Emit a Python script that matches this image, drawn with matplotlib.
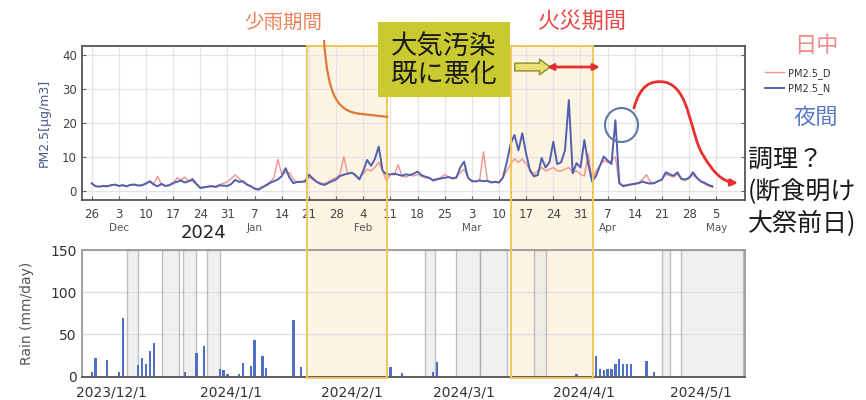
import numpy as np
import pandas as pd
import matplotlib
matplotlib.use("Agg")
import matplotlib.pyplot as plt
import matplotlib.transforms as mtransforms
from matplotlib.patches import Rectangle, Ellipse, FancyArrowPatch, PathPatch
from matplotlib.path import Path
from matplotlib.lines import Line2D
from matplotlib.ticker import FixedLocator, FixedFormatter

plt.rcParams['font.family'] = ['DejaVu Sans']
CJK = ['Noto Sans CJK JP', 'DejaVu Sans']

# ---- daily PM2.5 (daytime / night-time), starting 2023-11-26 ----
start_date = '2023-11-26'
pm25_day = [
    2.2, 1.6, 1.5, 1.7, 1.6, 1.9, 2.0,
    1.7, 1.9, 1.6, 2.0, 2.1, 1.8, 1.9,
    2.4, 2.8, 2.2, 4.4, 2.0, 1.6, 2.0,
    2.2, 4.0, 3.4, 4.2, 3.0, 3.0, 2.0,
    1.2, 1.3, 1.5, 1.7, 1.5, 2.0, 2.4,
    2.8, 3.8, 4.8, 3.8, 2.6, 2.2, 1.6,
    1.0, 0.8, 1.4, 2.0, 2.8, 4.0, 9.4,
    5.0, 5.5, 5.5, 3.5, 2.6, 2.8, 2.8,
    4.2, 3.5, 2.8, 2.5, 2.3, 2.8, 3.5,
    4.0, 5.0, 10.2, 5.0, 5.5, 4.5, 3.8,
    5.2, 6.5, 6.0, 7.0, 8.5, 6.0, 3.0,
    5.0, 4.8, 7.8, 4.5, 4.2, 4.8, 4.5,
    5.0, 4.4, 4.0, 3.8, 3.5, 3.8, 4.0,
    5.0, 4.2, 4.0, 4.2, 5.5, 6.5, 4.0,
    3.2, 3.0, 3.3, 11.6, 3.2, 2.8, 2.9,
    2.8, 4.0, 6.0, 8.0, 9.5, 8.5, 9.5,
    8.0, 6.5, 5.0, 6.0, 7.0, 6.0, 6.5,
    7.0, 6.0, 6.0, 6.5, 7.0, 5.5, 6.0,
    5.0, 4.5, 11.0, 3.5, 6.0, 7.5, 9.0,
    8.5, 9.0, 10.2, 2.2, 1.8, 2.0, 2.2,
    2.4, 2.6, 3.5, 4.9, 2.8, 2.5, 3.0,
    3.5, 5.0, 4.6, 4.2, 5.0, 3.5, 3.2,
    3.8, 4.8, 3.8, 2.8, 2.2, 1.6, 1.2,
]
pm25_night = [
    2.4, 1.5, 1.4, 1.6, 1.5, 1.8, 2.0,
    1.6, 1.8, 1.5, 1.9, 2.0, 1.7, 1.8,
    2.3, 3.0, 2.0, 1.5, 2.2, 1.6, 1.8,
    2.5, 2.8, 3.2, 2.6, 3.0, 3.6, 2.2,
    1.0, 1.2, 1.4, 1.5, 1.3, 1.8, 1.7,
    1.6, 2.2, 3.4, 2.8, 3.0, 2.0, 1.5,
    0.8, 0.5, 1.2, 1.8, 2.5, 3.0, 3.5,
    4.5, 6.8, 4.0, 2.4, 2.8, 2.8, 3.0,
    4.9, 3.8, 2.8, 2.2, 1.9, 2.5, 3.0,
    3.5, 4.5, 4.9, 5.2, 5.5, 4.8, 3.5,
    6.0, 9.2, 7.5, 9.5, 13.1, 6.0, 5.0,
    5.0, 5.2, 4.9, 4.6, 5.0, 4.8, 5.2,
    5.8, 4.8, 4.3, 4.0, 3.2, 3.5, 3.8,
    4.0, 4.2, 3.8, 4.0, 7.0, 8.7, 4.0,
    3.0, 2.9, 3.2, 3.0, 3.1, 2.6, 2.8,
    2.6, 4.0, 8.5, 14.0, 16.5, 12.0, 17.0,
    11.0, 6.0, 4.4, 4.8, 9.8, 7.0, 8.5,
    14.5, 8.0, 8.5, 12.0, 26.7, 5.3, 8.3,
    7.0, 15.0, 8.0, 2.9, 4.5, 7.5, 10.2,
    9.0, 8.0, 20.8, 2.5, 1.5, 1.8, 2.0,
    2.2, 2.4, 2.9, 2.5, 2.3, 2.4, 3.0,
    3.5, 5.6, 5.0, 4.6, 5.6, 3.7, 3.5,
    4.0, 5.6, 4.0, 3.0, 2.5, 1.9, 1.5,
]

# ---- daily rainfall ----
rain_dates = ['2023-11-26', '2023-11-27', '2023-11-30', '2023-12-03', '2023-12-04',
              '2023-12-08', '2023-12-09', '2023-12-10', '2023-12-11', '2023-12-12',
              '2023-12-20', '2023-12-23', '2023-12-25', '2023-12-29', '2023-12-30',
              '2023-12-31', '2024-01-03', '2024-01-04', '2024-01-06', '2024-01-07',
              '2024-01-09', '2024-01-10', '2024-01-17', '2024-01-19', '2024-02-11',
              '2024-02-14', '2024-02-22', '2024-02-23', '2024-03-30', '2024-04-04',
              '2024-04-05', '2024-04-06', '2024-04-07', '2024-04-08', '2024-04-09',
              '2024-04-10', '2024-04-11', '2024-04-12', '2024-04-13', '2024-04-17',
              '2024-04-19']
rain_mm = [5, 22, 19, 5, 69,
           13, 22, 14, 30, 40,
           5, 28, 36, 8, 7,
           3, 2, 16, 12, 43,
           24, 10, 67, 11, 11,
           4, 5, 17, 3, 24,
           8, 7, 9, 8, 14,
           20, 15, 14, 14, 18,
           5]

# days without rain-gauge records
missing_periods = [('2023-12-05', '2023-12-08'), ('2023-12-14', '2023-12-18 12:00'),
                   ('2023-12-19 12:00', '2023-12-23'), ('2023-12-25 20:00', '2023-12-29'),
                   ('2024-02-20', '2024-02-22 12:00'), ('2024-02-28', '2024-03-05'),
                   ('2024-03-05', '2024-03-12'), ('2024-03-19', '2024-03-22'),
                   ('2024-04-21', '2024-04-23'), ('2024-04-26', '2024-05-12')]

# highlighted periods: little rain, and fires
highlight_periods = [('2024-01-20 12:00', '2024-02-10'), ('2024-03-13', '2024-04-03 06:00')]

month_names = ['Jan', 'Feb', 'Mar', 'Apr', 'May', 'Jun', 'Jul', 'Aug', 'Sep', 'Oct', 'Nov', 'Dec']

dates = pd.date_range(start_date, periods=len(pm25_day), freq='D')
xmin = pd.Timestamp('2023-11-23 10:00')
xmax = pd.Timestamp('2024-05-12 10:00')

W, H = 866, 400
fig = plt.figure(figsize=(W / 100, H / 100), dpi=100)


def fp(x, y):
    """pixel position -> figure fraction"""
    return (x / W, 1 - y / H)


ax1 = fig.add_axes([0.0943, 0.5, 0.766, 0.385])
ax2 = fig.add_axes([0.0943, 0.0575, 0.766, 0.3175])
for ax in (ax1, ax2):
    ax.set_facecolor('none')

# ---------------- PM2.5 panel ----------------
ax1.plot(dates, pm25_day, color='#f2928e', lw=1.0, label='PM2.5_D', zorder=3)
ax1.plot(dates, pm25_night, color='#5060ae', lw=1.4, label='PM2.5_N', zorder=4)
ax1.set_xlim(xmin, xmax)
ax1.set_ylim(-2.5, 42.5)
ax1.set_yticks([0, 10, 20, 30, 40])

week_ticks = pd.date_range('2023-11-26', '2024-05-05', freq='7D')
ax1.xaxis.set_major_locator(FixedLocator([matplotlib.dates.date2num(d) for d in week_ticks]))
ax1.xaxis.set_major_formatter(FixedFormatter([str(d.day) for d in week_ticks]))
ax1.grid(True, color='#e4e4e4', lw=0.9)
ax1.set_axisbelow(True)
ax1.tick_params(axis='both', direction='in', length=3, color='#666', labelcolor='#444',
                labelsize=8.5, right=True, top=False)
ax1.tick_params(axis='x', pad=6)
for s in ax1.spines.values():
    s.set_color('#555')
    s.set_linewidth(1.3)
ax1.set_ylabel('PM2.5[μg/m3]', color='#4a5690', fontsize=9, labelpad=8)

# month names under the first tick of each month
blend1 = mtransforms.blended_transform_factory(ax1.transData, ax1.transAxes)
prev = week_ticks[0].month
for d in week_ticks[1:]:
    if d.month != prev:
        ax1.text(d, -0.185, month_names[d.month - 1], transform=blend1, ha='center',
                 va='center', fontsize=7.5, color='#555')
    prev = d.month
fig.text(*fp(203, 233), '2024', ha='center', va='center', fontsize=13, color='#222')

# ---------------- rain panel ----------------
ax2.bar(pd.to_datetime(rain_dates), rain_mm, width=0.6, color='#5070c8', zorder=3)
for a, b in missing_periods:
    ax2.axvspan(pd.Timestamp(a), pd.Timestamp(b), facecolor='#e6e6e6', alpha=0.6,
                edgecolor='#9a9a9a', lw=1.0, zorder=1)
ax2.set_xlim(xmin, xmax)
ax2.set_ylim(-1, 149)
ax2.set_yticks([0, 50, 100, 150])
month_starts = pd.date_range('2023-12-01', '2024-05-01', freq='MS')
ax2.xaxis.set_major_locator(FixedLocator([matplotlib.dates.date2num(d) for d in month_starts]))
ax2.xaxis.set_major_formatter(FixedFormatter([f'{d.year}/{d.month}/{d.day}' for d in month_starts]))
ax2.yaxis.grid(True, color='#dddddd', lw=0.9)
ax2.set_axisbelow(True)
ax2.tick_params(axis='both', length=0, labelcolor='#333', labelsize=10)
ax2.tick_params(axis='x', pad=6)
for s in ax2.spines.values():
    s.set_color('#999')
    s.set_linewidth(1.3)
ax2.spines['bottom'].set_color('#555')
ax2.set_ylabel('Rain (mm/day)', color='#555', fontsize=10, labelpad=12)

# highlighted periods spanning both panels
blendf = mtransforms.blended_transform_factory(ax1.transData, fig.transFigure)
y0, y1 = 1 - 378 / H, 1 - 46 / H
for a, b in highlight_periods:
    xa = matplotlib.dates.date2num(pd.Timestamp(a))
    xb = matplotlib.dates.date2num(pd.Timestamp(b))
    fig.add_artist(Rectangle((xa, y0), xb - xa, y1 - y0, transform=blendf,
                             facecolor='#fdf4e4', edgecolor='none', zorder=-2))
    fig.add_artist(Rectangle((xa, y0), xb - xa, y1 - y0, transform=blendf,
                             facecolor='none', edgecolor='#f3c657', lw=1.4, zorder=5))

# legend
handles = [Line2D([], [], color='#f2928e', lw=1.0), Line2D([], [], color='#5060ae', lw=1.4)]
fig.legend(handles, ['PM2.5_D', 'PM2.5_N'], loc='center left',
           bbox_to_anchor=fp(760, 81), frameon=False, fontsize=7, handlelength=2.0,
           handletextpad=0.4, labelspacing=0.5, borderpad=0, labelcolor='#333')

# ---------------- annotations ----------------
fig.text(*fp(283, 22), '少雨期間', ha='center', va='center', fontsize=14,
         color='#e8845a', family=CJK)
fig.text(*fp(582, 21), '火災期間', ha='center', va='center', fontsize=16,
         color='#e84848', family=CJK)
fig.text(*fp(816, 45), '日中', ha='center', va='center', fontsize=16,
         color='#f08a8a', family=CJK)
fig.text(*fp(816, 117), '夜間', ha='center', va='center', fontsize=16,
         color='#5a78c8', family=CJK)

# box: air pollution already worsening
bx0, by0 = fp(378, 97)
bx1, by1 = fp(510, 22)
fig.add_artist(Rectangle((bx0, by0), bx1 - bx0, by1 - by0, transform=fig.transFigure,
                         facecolor='#c9c930', edgecolor='none', zorder=6))
fig.text(*fp(444, 60), '大気汚染\n既に悪化', ha='center', va='center', fontsize=19,
         color='#1a1a1a', family=CJK, linespacing=1.05, zorder=7)

# hollow block arrow and fire-period span arrow
fig.add_artist(FancyArrowPatch(fp(512, 67), fp(553, 67), transform=fig.transFigure,
                               arrowstyle='simple,head_width=0.8,head_length=0.55,tail_width=0.4',
                               mutation_scale=14, facecolor='#e8e070', edgecolor='#8a8a30',
                               lw=1.0, zorder=6))
fig.add_artist(FancyArrowPatch(fp(547, 67), fp(600, 67), transform=fig.transFigure,
                               arrowstyle='<|-|>', mutation_scale=9, color='#e03030',
                               lw=2.0, shrinkA=0, shrinkB=0, zorder=6))

# curved pointer from the little-rain label
verts = [fp(324, 40), fp(328, 98), fp(338, 112), fp(362, 114), fp(388, 117)]
codes = [Path.MOVETO, Path.CURVE4, Path.CURVE4, Path.CURVE4, Path.LINETO]
fig.add_artist(PathPatch(Path(verts, codes), transform=fig.transFigure, facecolor='none',
                         edgecolor='#e07838', lw=1.6, zorder=6))

# circle around the night-time spike and arrow to the note
fig.add_artist(Ellipse(fp(621.5, 125), 33 / W, 34 / H, transform=fig.transFigure,
                       fill=False, edgecolor='#5a78a8', lw=1.5, zorder=6))
verts = [fp(634, 108), fp(640, 86), fp(650, 80), fp(664, 82),
         fp(690, 86), fp(690, 135), fp(703, 155),
         fp(713, 172), fp(722, 182), fp(738, 183)]
codes = [Path.MOVETO] + [Path.CURVE4] * 9
fig.add_artist(FancyArrowPatch(path=Path(verts, codes), transform=fig.transFigure,
                               arrowstyle='-|>', mutation_scale=10, color='#e83030',
                               lw=2.0, zorder=6))

fig.text(*fp(748, 147), '調理？\n(断食明け\n大祭前日)', ha='left', va='top', fontsize=18,
         color='#1a1a1a', family=CJK, linespacing=1.3)

fig.savefig('out.png', dpi=100)
